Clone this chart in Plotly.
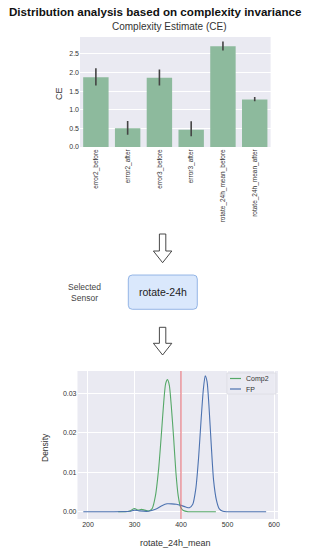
import plotly.graph_objects as go

# ---- data: bar chart (Complexity Estimate) ----
categories = ["error2_before", "error2_after", "error3_before", "error3_after",
              "rotate_24h_mean_before", "rotate_24h_mean_after"]
ce_values = [1.87, 0.50, 1.86, 0.465, 2.70, 1.275]
ce_err_hi = [2.11, 0.70, 2.08, 0.69, 2.83, 1.34]
ce_err_lo = [1.65, 0.33, 1.65, 0.29, 2.59, 1.23]

# ---- data: density curves ----
comp2_x = [265, 280, 290, 300, 308, 315, 322, 330, 338, 345, 352, 358, 363, 367, 371,
           375, 379, 384, 389, 394, 399, 405, 415, 440, 475]
comp2_y = [0.0, 0.0, 0.0002, 0.0008, 0.0004, 0.0006, 0.0004, 0.0002, 0.0008, 0.004,
           0.011, 0.020, 0.028, 0.0325, 0.0335, 0.032, 0.027, 0.019, 0.010, 0.004,
           0.0012, 0.0003, 0.0, 0.0, 0.0]
fp_x = [190, 250, 290, 300, 310, 330, 345, 360, 370, 380, 390, 400, 410, 418, 425, 432,
        438, 443, 448, 452, 456, 460, 465, 470, 476, 482, 490, 500, 583]
fp_y = [0.0, 0.0, 0.0001, 0.0004, 0.0002, 0.0001, 0.0006, 0.0016, 0.0020, 0.0020,
        0.0019, 0.0016, 0.0012, 0.0010, 0.0018, 0.006, 0.014, 0.023, 0.031, 0.0345,
        0.033, 0.027, 0.017, 0.008, 0.003, 0.0008, 0.0001, 0.0, 0.0]
threshold = 400
sensor = "rotate-24h"

W, H = 310, 550
def py(y):  # pixel y -> paper
    return 1 - y / H
def px(x):
    return x / W

BG = "#EAEAF2"
TXT = "#333333"
FONT = "Liberation Sans, Arial, sans-serif"

fig = go.Figure()

fig.add_trace(go.Bar(
    x=categories, y=ce_values, marker=dict(color="#8DBA9D", line=dict(width=0)),
    width=0.8,
    error_y=dict(type="data", symmetric=False,
                 array=[h - v for h, v in zip(ce_err_hi, ce_values)],
                 arrayminus=[v - l for l, v in zip(ce_err_lo, ce_values)],
                 color="#444444", thickness=1.6, width=0),
    xaxis="x", yaxis="y", showlegend=False, hoverinfo="skip"))

fig.add_trace(go.Scatter(x=comp2_x, y=comp2_y, mode="lines", line=dict(color="#55A868", width=1.1, shape="spline", smoothing=0.6),
                         xaxis="x2", yaxis="y2", showlegend=False))
fig.add_trace(go.Scatter(x=fp_x, y=fp_y, mode="lines", line=dict(color="#4C72B0", width=1.1, shape="spline", smoothing=0.6),
                         xaxis="x2", yaxis="y2", showlegend=False))

def ax(size=7, **kw):
    d = dict(showline=False, zeroline=False, gridcolor="white", gridwidth=1, automargin=False,
             ticks="", tickfont=dict(size=size, color=TXT, family=FONT))
    d.update(kw)
    return d

fig.update_layout(
    width=W, height=H, margin=dict(l=0, r=0, t=0, b=0),
    paper_bgcolor="white", plot_bgcolor=BG, font=dict(family=FONT, color=TXT),
    xaxis=ax(6.5, domain=[px(80), px(270.6)], anchor="y", range=[-0.5, 5.5],
             showgrid=False, tickangle=-90),
    yaxis=ax(7, domain=[py(147), py(37)], anchor="x",
             range=[0, 2.95], tickvals=[0, 0.5, 1, 1.5, 2, 2.5], tickformat=".1f", showgrid=True),
    xaxis2=ax(7, domain=[px(77.5), px(278)], anchor="y2", range=[177.5, 608.5],
              tickvals=[200, 300, 400, 500, 600], showgrid=True),
    yaxis2=ax(7, domain=[py(519), py(371)], anchor="x2", range=[-0.00185, 0.0357],
              tickvals=[0, 0.01, 0.02, 0.03], tickformat=".2f", showgrid=True),
)

shapes = []
# threshold line
shapes.append(dict(type="line", xref="x2", yref="paper", x0=threshold, x1=threshold,
                   y0=py(519), y1=py(371), line=dict(color="#E0606A", width=1)))
# arrows (outlined)
def arrow(top, neck, tip, cx=162.6, half_shaft=3.2, half_head=9.2):
    path = (f"M {px(cx-half_shaft)} {py(top)} L {px(cx+half_shaft)} {py(top)} "
            f"L {px(cx+half_shaft)} {py(neck)} L {px(cx+half_head)} {py(neck)} "
            f"L {px(cx)} {py(tip)} L {px(cx-half_head)} {py(neck)} "
            f"L {px(cx-half_shaft)} {py(neck)} Z")
    return dict(type="path", xref="paper", yref="paper", path=path,
                fillcolor="white", line=dict(color="#333333", width=0.9))
shapes.append(arrow(234, 251, 262.7))
shapes.append(arrow(327.3, 343.3, 355))
# sensor box
shapes.append(dict(type="path", xref="paper", yref="paper",
                   path=(f"M {px(132.3)} {py(275)} L {px(193.3)} {py(275)} "
                         f"Q {px(197.3)} {py(275)} {px(197.3)} {py(279)} "
                         f"L {px(197.3)} {py(305.3)} Q {px(197.3)} {py(309.3)} {px(193.3)} {py(309.3)} "
                         f"L {px(132.3)} {py(309.3)} Q {px(128.3)} {py(309.3)} {px(128.3)} {py(305.3)} "
                         f"L {px(128.3)} {py(279)} Q {px(128.3)} {py(275)} {px(132.3)} {py(275)} Z"),
                   fillcolor="#DAE8FC", line=dict(color="#7EA6E0", width=0.8)))
# legend box
shapes.append(dict(type="rect", xref="paper", yref="paper", x0=px(227), x1=px(276),
                   y0=py(394), y1=py(373), fillcolor="rgba(234,234,242,0.85)",
                   line=dict(color="#D8D8E0", width=0.7)))
shapes.append(dict(type="line", xref="paper", yref="paper", x0=px(230), x1=px(241),
                   y0=py(378.5), y1=py(378.5), line=dict(color="#55A868", width=1.2)))
shapes.append(dict(type="line", xref="paper", yref="paper", x0=px(230), x1=px(241),
                   y0=py(389), y1=py(389), line=dict(color="#4C72B0", width=1.2)))
fig.update_layout(shapes=shapes)

ann = [
    dict(text="<b>Distribution analysis based on complexity invariance</b>", x=px(156), y=py(11),
         font=dict(size=11.6, color="#111111", family=FONT)),
    dict(text="Complexity Estimate (CE)", x=px(169), y=py(27), font=dict(size=10, color=TXT, family=FONT)),
    dict(text="CE", x=px(59), y=py(93), textangle=-90, font=dict(size=9, color=TXT, family=FONT)),
    dict(text="Density", x=px(45), y=py(448), textangle=-90, font=dict(size=8.5, color=TXT, family=FONT)),
    dict(text="rotate_24h_mean", x=px(175), y=py(542.5), font=dict(size=9, color=TXT, family=FONT)),
    dict(text="Selected<br>Sensor", x=px(84.3), y=py(292.7), font=dict(size=8.5, color="#444444", family=FONT)),
    dict(text=sensor, x=px(162.8), y=py(292.2), font=dict(size=10.5, color="#222222", family=FONT)),
    dict(text="Comp2", x=px(244), y=py(378.5), xanchor="left", font=dict(size=7, color=TXT, family=FONT)),
    dict(text="FP", x=px(244), y=py(389), xanchor="left", font=dict(size=7, color=TXT, family=FONT)),
]
for a in ann:
    a.update(xref="paper", yref="paper", showarrow=False)
    a.setdefault("xanchor", "center")
    a["yanchor"] = "middle"
fig.update_layout(annotations=ann)

fig.write_html("out.html", config={"displayModeBar": False},
               post_script="document.body.style.margin='0';document.body.style.overflow='hidden';")
